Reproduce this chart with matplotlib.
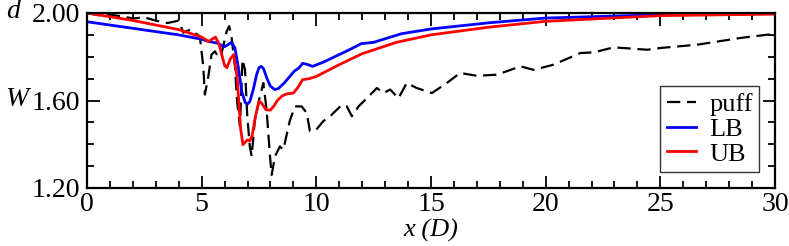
import numpy as np
import matplotlib
matplotlib.use("Agg")
import matplotlib.pyplot as plt
from matplotlib.ticker import MultipleLocator

plt.rcParams['font.family'] = ['Liberation Serif', 'DejaVu Serif']

# values
puff_x = [0, 0.5, 1, 1.5, 2, 2.5, 3, 3.5, 4, 4.2, 4.5, 4.92, 5.07, 5.14, 5.29, 5.43,
          5.58, 5.72, 5.87, 6.09, 6.2, 6.3, 6.45, 6.55, 6.67, 6.78, 6.89, 6.99, 7.1,
          7.18, 7.32, 7.54, 7.69, 7.83, 7.98, 8.05, 8.2, 8.41, 8.56, 8.85, 9.07, 9.36,
          9.58, 9.72, 10.0, 10.3, 10.67, 11.11, 11.33, 11.55, 11.84, 12.2, 12.64,
          12.93, 13.22, 13.58, 13.94, 14.38, 15.04, 15.69, 16.27, 17.0, 17.88, 18.9,
          19.48, 20.35, 21.51, 22.1, 22.97, 24.43, 25.0, 26.6, 28.5, 30.0]
puff_y = [2.0, 1.99, 1.992, 1.985, 1.975, 1.98, 1.965, 1.954, 1.965, 1.91, 1.924,
          1.893, 1.756, 1.627, 1.71, 1.81, 1.825, 1.80, 1.817, 1.916, 1.94, 1.893,
          1.756, 1.59, 1.482, 1.787, 1.74, 1.527, 1.39, 1.345, 1.51, 1.62, 1.68,
          1.558, 1.345, 1.26, 1.345, 1.39, 1.375, 1.51, 1.573, 1.573, 1.543, 1.46,
          1.467, 1.505, 1.535, 1.58, 1.573, 1.528, 1.573, 1.61, 1.657, 1.634, 1.65,
          1.61, 1.68, 1.657, 1.634, 1.68, 1.726, 1.713, 1.718, 1.756, 1.74, 1.764,
          1.817, 1.82, 1.843, 1.832, 1.84, 1.855, 1.886, 1.905]

lb_x = [0, 2, 4, 5, 5.3, 5.7, 5.9, 6.0, 6.15, 6.3, 6.45, 6.6, 6.75, 6.9, 7.0, 7.1,
        7.25, 7.4, 7.5, 7.6, 7.7, 7.85, 8.0, 8.19, 8.35, 8.6, 9.03, 9.25, 9.4, 9.6,
        9.84, 10.3, 10.8, 11.4, 11.96, 12.5, 13.7, 15, 17.5, 20, 25, 30]
lb_y = [1.96, 1.93, 1.90, 1.88, 1.87, 1.862, 1.85, 1.846, 1.855, 1.866, 1.84,
        1.75, 1.64, 1.59, 1.584, 1.595, 1.65, 1.72, 1.75, 1.756, 1.745, 1.70, 1.665,
        1.65, 1.655, 1.68, 1.733, 1.75, 1.77, 1.765, 1.756, 1.775, 1.80, 1.83, 1.86,
        1.866, 1.905, 1.927, 1.955, 1.977, 1.992, 1.997]

ub_x = [0, 2, 4, 5, 5.3, 5.45, 5.6, 5.75, 5.85, 6.0, 6.1, 6.25, 6.4, 6.55, 6.7,
        6.8, 6.9, 7.0, 7.1, 7.2, 7.35, 7.5, 7.6, 7.8, 8.0, 8.15, 8.3, 8.5, 8.7, 9.0,
        9.2, 9.4, 9.7, 10, 11, 12, 13.5, 15, 17.5, 20, 25, 30]
ub_y = [2.0, 1.966, 1.924, 1.89, 1.87, 1.88, 1.89, 1.86, 1.82, 1.76, 1.75, 1.79,
        1.81, 1.70, 1.47, 1.398, 1.41, 1.42, 1.415, 1.44, 1.53, 1.596, 1.59, 1.558,
        1.556, 1.575, 1.60, 1.62, 1.63, 1.634, 1.66, 1.695, 1.70, 1.71, 1.764, 1.814,
        1.866, 1.90, 1.935, 1.962, 1.988, 1.995]

fig = plt.figure(figsize=(7.89, 2.46), dpi=100)
ax = fig.add_axes([87 / 789, 1 - 188 / 246, 688 / 789, 175 / 246])

ax.plot(puff_x, puff_y, color='black', lw=1.6, dashes=(6, 3), label='puff')
ax.plot(lb_x, lb_y, color='#0000ff', lw=2.0, label='LB')
ax.plot(ub_x, ub_y, color='#ff0000', lw=2.0, label='UB')

ax.set_xlim(0, 30)
ax.set_ylim(1.2, 2.0)
ax.xaxis.set_major_locator(MultipleLocator(5))
ax.xaxis.set_minor_locator(MultipleLocator(1))
ax.yaxis.set_major_locator(MultipleLocator(0.4))
ax.yaxis.set_minor_locator(MultipleLocator(0.1))
ax.yaxis.set_major_formatter(matplotlib.ticker.FormatStrFormatter('%.2f'))
ax.tick_params(which='both', direction='in', top=True, right=True, width=1.3,
               labelsize=20)
ax.tick_params(axis='x', pad=3)
ax.tick_params(axis='y', pad=5)
ax.tick_params(which='major', length=9)
ax.tick_params(which='minor', length=5)
for s in ax.spines.values():
    s.set_linewidth(1.6)

ax.set_xlabel('x (D)', fontsize=19, style='italic', labelpad=1)
fig.text(6 / 789, 1 - 12 / 246, 'd', fontsize=20, style='italic', ha='left', va='center')
fig.text(5 / 789, 1 - 100 / 246, 'W', fontsize=20, style='italic', ha='left', va='center')

leg = ax.legend(loc='lower right', bbox_to_anchor=(0.977, 0.09), fontsize=19,
                frameon=True, fancybox=False, edgecolor='black', handlelength=1.1,
                handletextpad=0.5, borderpad=0.25, labelspacing=0.05,
                borderaxespad=0)
leg.get_frame().set_linewidth(1.0)

fig.savefig('out.png', dpi=100)
